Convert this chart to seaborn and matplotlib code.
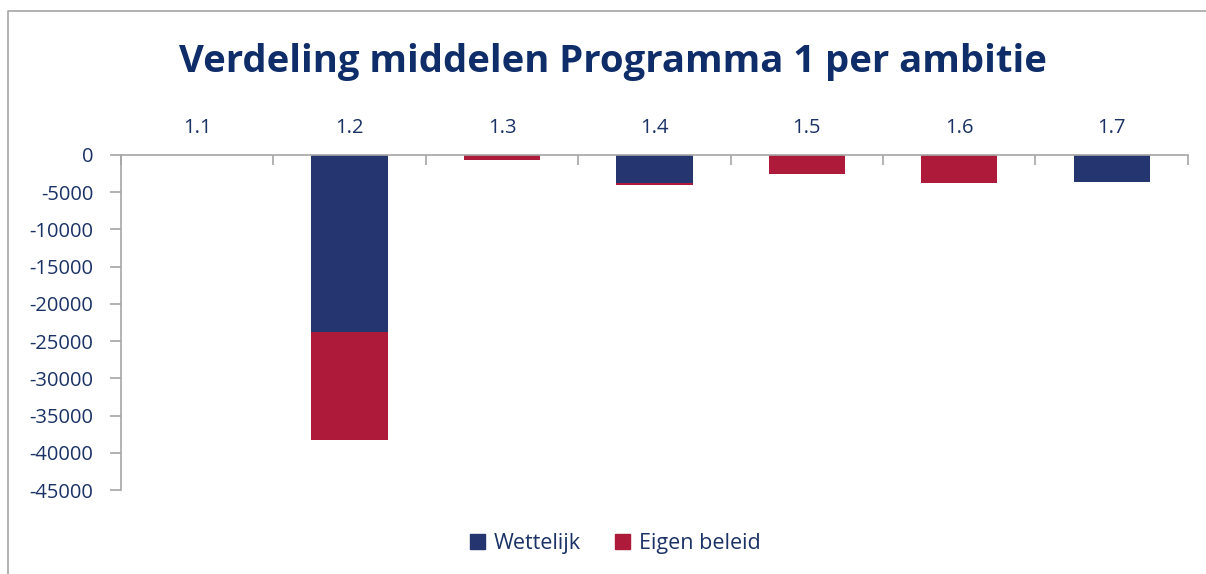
import seaborn as sns
import pandas as pd
import matplotlib.pyplot as plt
from matplotlib.lines import Line2D
from matplotlib.patches import Patch

ambities = ["1.1", "1.2", "1.3", "1.4", "1.5", "1.6", "1.7"]
wettelijk = [0, -23800, 0, -3750, 0, 0, -3600]
eigen_beleid = [0, -14500, -650, -250, -2550, -3800, 0]

blauw = "#253570"
rood = "#AE1A3A"
tekst = "#1B3266"
grijs = "#A6A6A6"

df = pd.DataFrame({"ambitie": ambities, "Wettelijk": wettelijk, "Eigen beleid": eigen_beleid})
df["totaal"] = df["Wettelijk"] + df["Eigen beleid"]

sns.set_theme(style="white")
plt.rcParams["font.family"] = ["Open Sans", "DejaVu Sans"]
plt.rcParams["axes.unicode_minus"] = False

fig = plt.figure(figsize=(12.06, 5.74), dpi=100)
ax = fig.add_axes([0.1003, 0.1463, 0.8847, 0.5837])

# stacked: total in red first, Wettelijk in blue on top
sns.barplot(data=df, x="ambitie", y="totaal", color=rood, width=0.5, saturation=1,
            linewidth=0, ax=ax)
sns.barplot(data=df, x="ambitie", y="Wettelijk", color=blauw, width=0.5, saturation=1,
            linewidth=0, ax=ax)

ax.set_ylim(-45000, 0)
ax.set_xlim(-0.5, 6.5)
ax.set_yticks(range(-45000, 1, 5000))
ax.set_xlabel("")
ax.set_ylabel("")

ax.xaxis.tick_top()
ax.tick_params(axis="x", which="major", length=0, pad=12, labelsize=14.5, labelcolor=tekst)
ax.set_xticks([i - 0.5 for i in range(8)], minor=True)
ax.tick_params(axis="x", which="minor", top=True, direction="in", length=7, color=grijs, width=1.2)
ax.tick_params(axis="y", left=True, direction="out", length=8, color=grijs, width=1.2,
               labelsize=14.5, labelcolor=tekst, pad=12)

for s in ["right", "bottom"]:
    ax.spines[s].set_visible(False)
for s in ["top", "left"]:
    ax.spines[s].set_color(grijs)
    ax.spines[s].set_linewidth(1.2)

fig.suptitle("Verdeling middelen Programma 1 per ambitie", x=0.508, y=0.925,
             fontsize=27.5, fontweight="bold", color="#0F2D69")

handles = [Patch(color=blauw, label="Wettelijk"), Patch(color=rood, label="Eigen beleid")]
fig.legend(handles=handles, loc="center", bbox_to_anchor=(0.51, 0.053), ncol=2, frameon=False,
           fontsize=15.5, labelcolor=tekst, handlelength=0.7, handleheight=0.7,
           handletextpad=0.4, columnspacing=1.6)

# chart area border
fig.add_artist(Line2D([8 / 1206, 8 / 1206, 1.0], [0, 1 - 11 / 574, 1 - 11 / 574],
                      transform=fig.transFigure, color=grijs, linewidth=1.2))

plt.savefig("out.png", dpi=100)
